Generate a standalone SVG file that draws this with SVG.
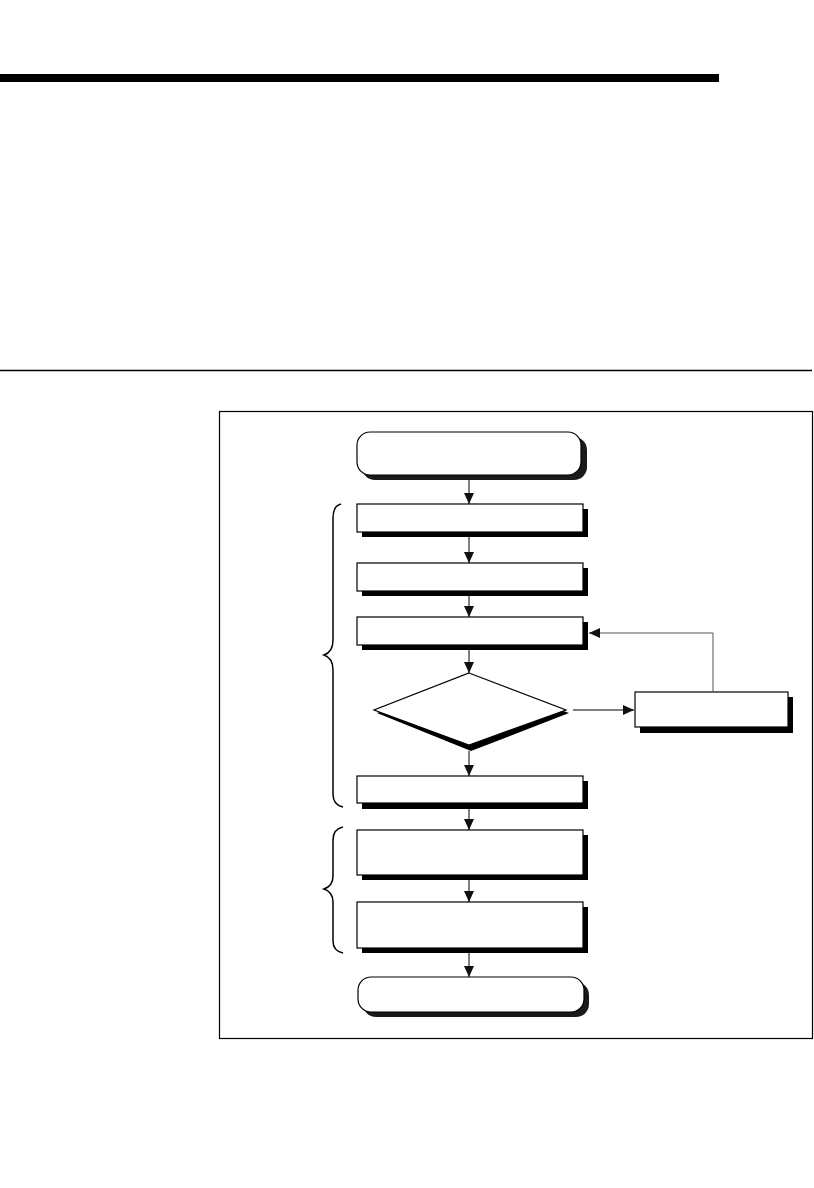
<svg xmlns="http://www.w3.org/2000/svg" width="814" height="1188" viewBox="0 0 814 1188">
<style>
.box{fill:#fff;stroke:#000;stroke-width:1.2}
.sh{fill:#000}
.tsh{fill:#1a1a1a}
.conn{fill:none;stroke:#000;stroke-width:1}
.brace{fill:none;stroke:#000;stroke-width:1.5}
</style>
<defs>
<marker id="ah" markerWidth="12" markerHeight="12" refX="11" refY="5" orient="auto" markerUnits="userSpaceOnUse">
<path d="M0,0 L11,5 L0,10 Z" fill="#111"/>
</marker>
</defs>
<rect width="814" height="1188" fill="#fff"/>
<rect x="0" y="74" width="719" height="8" fill="#000"/>
<line x1="0" y1="370.5" x2="812" y2="370.5" stroke="#000" stroke-width="1.3"/>
<rect x="219.5" y="411.5" width="593" height="627" fill="none" stroke="#000" stroke-width="1.2"/>

<g id="braces">
<path class="brace" d="M341 504 Q333 506 333 518 L333 640 Q333 652 324 655 Q333 658 333 670 L333 794 Q333 805 343 807"/>
<path class="brace" d="M343 827 Q333 829 333 840 L333 876 Q333 886 324 889 Q333 892 333 902 L333 941 Q333 951 343 953"/>
</g>

<g id="start">
<rect class="tsh" x="362" y="437" width="225" height="43" rx="13"/>
<rect class="box" x="357" y="432" width="224" height="43" rx="13"/>
</g>
<g id="step1">
<rect class="sh" x="362" y="509" width="226" height="28"/>
<rect class="box" x="357" y="504" width="226" height="28"/>
</g>
<g id="step2">
<rect class="sh" x="362" y="568" width="226" height="28"/>
<rect class="box" x="357" y="563" width="226" height="28"/>
</g>
<g id="step3">
<rect class="sh" x="362" y="622" width="226" height="28"/>
<rect class="box" x="357" y="617" width="226" height="28"/>
</g>
<g id="decision">
<polygon class="sh" points="469,677 569,713 471,751 377,713"/>
<polygon class="box" points="469,673 566,710 469,745 374,710"/>
</g>
<g id="side">
<rect class="sh" x="640" y="697" width="153" height="36"/>
<rect class="box" x="635" y="692" width="153" height="35"/>
</g>
<g id="step5">
<rect class="sh" x="362" y="781" width="226" height="28"/>
<rect class="box" x="357" y="776" width="226" height="27"/>
</g>
<g id="step6">
<rect class="sh" x="362" y="835" width="226" height="45"/>
<rect class="box" x="357" y="830" width="226" height="45"/>
</g>
<g id="step7">
<rect class="sh" x="362" y="907" width="226" height="46"/>
<rect class="box" x="357" y="902" width="226" height="46"/>
</g>
<g id="end">
<rect class="tsh" x="363" y="982" width="226" height="35" rx="13"/>
<rect class="box" x="358" y="977" width="226" height="35" rx="13"/>
</g>

<g id="connectors">
<line class="conn" x1="469" y1="480" x2="469" y2="504" marker-end="url(#ah)"/>
<line class="conn" x1="469" y1="537" x2="469" y2="563" marker-end="url(#ah)"/>
<line class="conn" x1="469" y1="596" x2="469" y2="617" marker-end="url(#ah)"/>
<line class="conn" x1="469" y1="650" x2="469" y2="673" marker-end="url(#ah)"/>
<line class="conn" x1="469" y1="751" x2="469" y2="776" marker-end="url(#ah)"/>
<line class="conn" x1="469" y1="809" x2="469" y2="830" marker-end="url(#ah)"/>
<line class="conn" x1="469" y1="880" x2="469" y2="902" marker-end="url(#ah)"/>
<line class="conn" x1="469" y1="953" x2="469" y2="977" marker-end="url(#ah)"/>
<line class="conn" x1="573" y1="710" x2="634" y2="710" marker-end="url(#ah)"/>
<path d="M713 692 L713 633 L589 633" fill="none" stroke="#555" stroke-width="1" marker-end="url(#ah)"/>
</g>
</svg>
